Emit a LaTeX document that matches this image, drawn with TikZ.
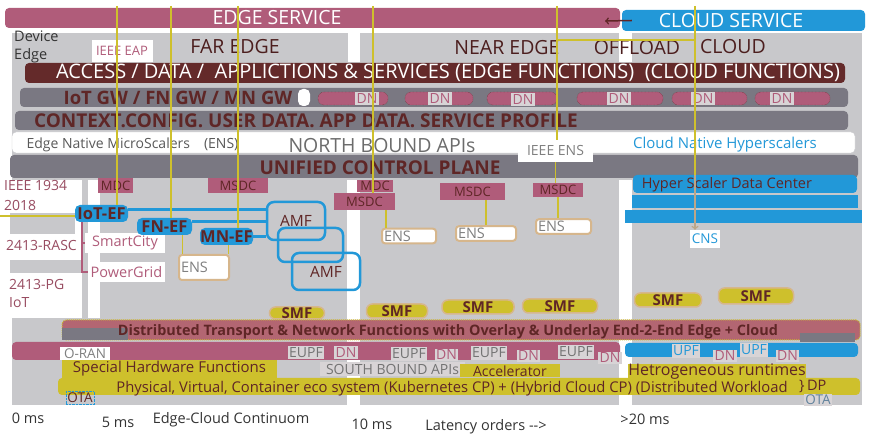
\documentclass[tikz,border=0pt]{standalone}
\usepackage{fontspec}
\setmainfont{Open Sans}
\definecolor{mauve}{RGB}{176,92,122}
\definecolor{wine}{RGB}{100,42,42}
\definecolor{ink}{RGB}{95,38,38}
\definecolor{slate}{RGB}{122,120,130}
\definecolor{pane}{RGB}{200,200,203}
\definecolor{sky}{RGB}{34,152,216}
\definecolor{mustard}{RGB}{206,192,44}
\definecolor{tan}{RGB}{214,182,140}
\definecolor{chip}{RGB}{216,212,214}
\tikzstyle{bar} = [inner sep=0pt, rounded corners=4pt]
\tikzstyle{title} = [font=\fontsize{19.5}{19.5}\selectfont]
\tikzstyle{heavy} = [font=\fontsize{19}{19}\selectfont\bfseries, text=ink]
\tikzstyle{region} = [font=\fontsize{19.5}{19.5}\selectfont, text=ink!80!black]
\tikzstyle{tag} = [font=\fontsize{14.5}{14.5}\selectfont]
\tikzstyle{note} = [font=\fontsize{14}{14}\selectfont]
\tikzstyle{dc} = [fill=mauve, text=ink, inner sep=0pt, font=\fontsize{13}{13}\selectfont]
\tikzstyle{ef} = [fill=sky, text=ink, rounded corners=5pt, inner sep=0pt, minimum height=17pt, font=\fontsize{16.5}{16.5}\selectfont\bfseries]
\tikzstyle{amf} = [draw=sky, line width=2.5pt, rounded corners=7pt, inner sep=0pt, font=\fontsize{15.5}{15.5}\selectfont, text=ink]
\tikzstyle{ens} = [draw=tan, line width=2pt, fill=white, rounded corners=3pt, inner sep=2pt, align=left, text=gray, font=\fontsize{14.5}{14.5}\selectfont]
\tikzstyle{pill} = [fill=mauve, draw=wine, densely dotted, rounded corners=6pt, minimum height=13pt, inner sep=0pt]
\tikzstyle{dn} = [fill=chip, text=mauve, inner sep=1.5pt, note]
\tikzstyle{upf} = [fill=chip, text=gray!90!black, inner sep=1.5pt, note]
\tikzstyle{smf} = [fill=mustard, draw=tan, line width=1.5pt, rounded corners=6pt, inner sep=0pt, text=ink, font=\fontsize{15}{15}\selectfont\bfseries]
\tikzstyle{strip} = [fill=mustard, inner sep=0pt, text=ink, font=\fontsize{15}{15}\selectfont]
\tikzstyle{side} = [text=mauve!70!ink, font=\fontsize{14}{14}\selectfont, anchor=west, inner sep=0pt]
\tikzstyle{axis} = [text=gray!40!black, font=\fontsize{14.5}{14.5}\selectfont]
\tikzstyle{link} = [draw=mustard, line width=1.5pt]
\tikzstyle{blink} = [draw=sky, line width=3.5pt]
\tikzstyle{mlink} = [draw=mauve, line width=1.5pt]

\begin{document}
\begin{tikzpicture}[x=1pt, y=-1pt]
  \useasboundingbox (0,0) rectangle (871,438);
  \fill[pane] (12,33) rectangle (862,405);
  \fill[white] (347,180) rectangle (360,405);
  \fill[white] (619,180) rectangle (632,405);
  \fill[white] (348,33) rectangle (360,62);
  \fill[white] (619,30) rectangle (632,62);
  \fill[white] (0,180) rectangle (82,318);
  \fill[white] (88,180) rectangle (100,318);
  \fill[pane] (10,213) rectangle (75,234);
  \fill[pane] (10,260) rectangle (82,273);

  \node[bar, fill=mauve, minimum width=615pt, minimum height=20pt] (edge) at (312.5,18) {};
  \node[text=white, title] (edgetxt) at (277,18) {EDGE SERVICE};
  \node[bar, fill=sky, minimum width=243pt, minimum height=21pt] (cloud) at (743.5,20.5) {};
  \node[text=white, title] (cloudtxt) at (731,21) {CLOUD SERVICE};
  \coordinate (tip) at (605,21);
  \draw[->, ink, line width=1.5pt] ([xshift=10pt]cloud.west) -- (tip);

  \node[anchor=north west, align=left, inner sep=0pt, text=gray!40!black, font=\fontsize{14.5}{18}\selectfont] (device) at (14,31) {Device\\Edge};
  \node[fill=white, text=mauve, font=\fontsize{13}{13}\selectfont, minimum width=61pt, minimum height=22pt, inner sep=0pt] (eap) at (122,51) {IEEE EAP};
  \node[region] (far) at (235,47) {FAR EDGE};
  \node[region] (near) at (507,48) {NEAR EDGE};
  \node[region] (offload) at (637,48) {OFFLOAD};
  \node[region] (cloudlbl) at (733,47) {CLOUD};

  \node[bar, fill=wine, minimum width=820pt, minimum height=20pt] (access) at (435,73) {};
  \node[text=white, font=\fontsize{20}{20}\selectfont] (accesstxt) at (448,73) {ACCESS / DATA /\ \ APPLICTIONS \& SERVICES (EDGE FUNCTIONS)\ \ (CLOUD FUNCTIONS)};

  \node[bar, fill=slate, minimum width=828pt, minimum height=19pt] (gw) at (434,97.5) {};
  \node[heavy, font=\fontsize{18.5}{18.5}\selectfont\bfseries] (gwtxt) at (178,98) {IoT GW / FN GW / MN GW};
  \fill[white, rounded corners=5pt] (298,89) rectangle (310,106);
  \node[pill, minimum width=70pt] (pill1) at (353,98.5) {};
  \node[pill, minimum width=68pt] (pill2) at (439,98.5) {};
  \node[pill, minimum width=70pt] (pill3) at (522,98.5) {};
  \node[pill, minimum width=86pt] (pill4) at (620,98.5) {};
  \node[pill, minimum width=75pt] (pill5) at (709.5,98.5) {};
  \node[pill, minimum width=75pt] (pill6) at (792.5,98.5) {};
  \node[dn] (dn1) at (367,98.5) {DN};
  \node[dn] (dn2) at (440,99) {DN};
  \node[dn] (dn3) at (523,100) {DN};
  \node[dn] (dn4) at (619,98.5) {DN};
  \node[dn] (dn5) at (703,98.5) {DN};
  \node[dn] (dn6) at (782,98.5) {DN};

  \node[bar, fill=slate, minimum width=833pt, minimum height=19pt] (ctx) at (431.5,120.5) {};
  \node[heavy] (ctxtxt) at (306,121) {CONTEXT.CONFIG. USER DATA. APP DATA. SERVICE PROFILE};

  \node[bar, fill=white, draw=pane, minimum width=843pt, minimum height=21pt] (north) at (433.5,142.5) {};
  \node[anchor=west, text=gray!70!black, note] (micro) at (23,145) {Edge Native MicroScalers\quad (ENS)};
  \node[text=gray!85!black, font=\fontsize{19.5}{19.5}\selectfont] (nbapi) at (382,146) {NORTH BOUND APIs};
  \node[text=sky, font=\fontsize{15}{15}\selectfont] (hyperlbl) at (725,145) {Cloud Native Hyperscalers};

  \node[bar, fill=slate, minimum width=848pt, minimum height=23pt] (ucp) at (434,166.5) {};
  \node[heavy] (ucptxt) at (380,168) {UNIFIED CONTROL PLANE};
  \node[fill=white, text=gray, note, minimum width=75pt, minimum height=22pt, inner sep=0pt] (ieeeens) at (555.5,151) {IEEE ENS};

  \node[bar, fill=sky, minimum width=224pt, minimum height=18pt] (hyper1) at (745,184) {};
  \node[text=ink, font=\fontsize{14.5}{14.5}\selectfont] (hypertxt) at (727,185) {Hyper Scaler Data Center};
  \node[fill=sky, inner sep=0pt, minimum width=226pt, minimum height=13pt] (hyper2) at (745,201.5) {};
  \node[fill=sky, inner sep=0pt, minimum width=237pt, minimum height=13pt] (hyper3) at (743.5,216.5) {};
  \node[fill=white, text=sky, font=\fontsize{13.5}{13.5}\selectfont, minimum width=30pt, minimum height=18pt, inner sep=0pt] (cns) at (705,239) {CNS};

  \node[side] (ieee1934) at (4,186) {IEEE 1934};
  \node[side] (y2018) at (4,205) {2018};
  \node[side] (rasc) at (6,246) {2413-RASC};
  \node[side] (pg) at (9,285) {2413-PG};
  \node[side] (iotlbl) at (9,303) {IoT};

  \node[dc, minimum width=35pt, minimum height=15pt] (mdc1) at (115.5,185.5) {MDC};
  \node[dc, minimum width=60pt, minimum height=15pt] (msdc1) at (238,185.5) {MSDC};
  \node[dc, minimum width=36pt, minimum height=12pt] (mdc2) at (375,186) {MDC};
  \node[dc, minimum width=61pt, minimum height=17pt] (msdc2) at (364.5,201.5) {MSDC};
  \node[dc, minimum width=65pt, minimum height=17pt] (msdc3) at (472.5,191.5) {MSDC};
  \node[dc, minimum width=50pt, minimum height=14pt] (msdc4) at (558,190) {MSDC};

  \node[fill=white, text=mauve, tag, minimum width=80pt, minimum height=20pt, inner sep=0pt] (city) at (125,243) {SmartCity};
  \node[fill=white, text=mauve, tag, minimum width=77pt, minimum height=20pt, inner sep=0pt] (grid) at (126.5,272) {PowerGrid};

  \node[amf, minimum width=65pt, minimum height=34pt] (amf2) at (310.5,245) {};
  \node[amf, minimum width=58pt, minimum height=38pt] (amf1) at (296,221) {AMF};
  \node[amf, minimum width=68pt, minimum height=37pt] (amf3) at (326,271.5) {AMF};
  \node[ef, minimum width=53pt] (iot) at (101.5,213.5) {IoT-EF};
  \node[ef, minimum width=55pt] (fn) at (164.5,226.5) {FN-EF};
  \node[ef, minimum width=53pt] (mn) at (226.5,236.5) {MN-EF};
  \draw[blink] ([yshift=4pt]iot.east) -- ([yshift=4pt]iot.east -| amf1.west);
  \draw[blink] ([yshift=5pt]fn.east) -- ([yshift=5pt]fn.east -| amf1.west);
  \draw[blink] (mn.east) -- (mn.east -| amf1.west);
  \draw[mlink] ([xshift=7pt]iot.south west) |- (city.west);
  \draw[mlink] ([xshift=7pt]iot.south west) |- (grid.west);

  \node[ens, text width=46pt, minimum height=25pt] (ens1) at (204,267.5) {ENS};
  \node[ens, text width=50pt] (ens2) at (409,236) {ENS};
  \node[ens, text width=56pt] (ens3) at (486,233.5) {ENS};
  \node[ens, text width=51pt] (ens4) at (563.5,226.5) {ENS};

  \node[smf, minimum width=55pt, minimum height=12pt] (smf1) at (297,313) {SMF};
  \node[smf, minimum width=61pt, minimum height=14pt] (smf2) at (397,311) {SMF};
  \node[smf, minimum width=72pt, minimum height=14pt] (smf3) at (478,307) {SMF};
  \node[smf, minimum width=75pt, minimum height=14pt] (smf4) at (560,306) {SMF};
  \node[smf, minimum width=67pt, minimum height=14pt] (smf5) at (668,300) {SMF};
  \node[smf, minimum width=75pt, minimum height=16pt] (smf6) at (756,296) {SMF};

  \node[bar, fill=mauve!90!mustard, draw=mustard, densely dotted, line width=1pt, minimum width=798pt, minimum height=20pt] (dist) at (461,330) {};
  \node[fill=slate, inner sep=0pt, minimum width=66pt, minimum height=12pt] (distl) at (95,334) {};
  \node[fill=slate, inner sep=0pt, minimum width=55pt, minimum height=9pt] (distr) at (827,337.5) {};
  \node[text=ink, font=\fontsize{14.4}{14.4}\selectfont\bfseries] (disttxt) at (448,332) {Distributed Transport \& Network Functions with Overlay \& Underlay End-2-End Edge + Cloud};

  \node[bar, fill=mauve, minimum width=608pt, minimum height=18pt] (ran) at (316,351) {};
  \node[fill=white, text=gray, font=\fontsize{13.5}{13.5}\selectfont, minimum width=50pt, minimum height=13pt, inner sep=0pt] (oran) at (85,353.5) {O-RAN};
  \node[upf] (eupf1) at (306,352.5) {EUPF};
  \node[dn] (dn7) at (346,352.5) {DN};
  \node[upf] (eupf2) at (409,354) {EUPF};
  \node[dn] (dn8) at (446.5,355) {DN};
  \node[upf] (eupf3) at (489,353) {EUPF};
  \node[dn] (dn9) at (528.5,356) {DN};
  \node[upf] (eupf4) at (576,352) {EUPF};
  \node[dn] (dn10) at (610,358) {DN};
  \node[bar, fill=sky, minimum width=233pt, minimum height=14pt] (upfbar) at (741.5,350) {};
  \node[upf, text=sky] (upf1) at (686,351) {UPF};
  \node[dn] (dn11) at (725,356) {DN};
  \node[upf, text=sky] (upf2) at (754,350) {UPF};
  \node[dn] (dn12) at (787.5,356) {DN};
  \node[fill=chip, text=gray!90!black, note, minimum width=145pt, minimum height=14pt, inner sep=0pt] (sbapi) at (392.5,369) {SOUTH BOUND APIs};

  \node[strip, minimum width=215pt, minimum height=18pt] (special) at (169.5,369) {Special Hardware Functions};
  \node[strip, bar, minimum width=802pt, minimum height=17pt] (eco) at (459,386.5) {};
  \node[strip, font=\fontsize{14}{14}\selectfont, minimum width=100pt, minimum height=13pt] (accel) at (510,371) {Accelerator};
  \node[strip, font=\fontsize{16}{16}\selectfont, minimum width=170pt, minimum height=15pt] (hetero) at (717,372) {Hetrogeneous runtimes};
  \node[text=ink, inner sep=0pt, font=\fontsize{14.8}{14.8}\selectfont] (ecotxt) at (452,389) {Physical, Virtual, Container eco system (Kubernetes CP) + (Hybrid Cloud CP) (Distributed Workload};
  \node[text=ink, tag, anchor=west, inner sep=0pt] (dp) at (799,386) {\}\,DP};
  \node[fill=chip, text=slate!70!sky, font=\fontsize{13.5}{13.5}\selectfont, inner sep=1pt] (ota2) at (818,400) {OTA};
  \node[draw=sky, densely dotted, text=ink, font=\fontsize{13.5}{13.5}\selectfont, inner sep=1.5pt] (ota1) at (80,398) {OTA};

  \node[axis] (ms0) at (28,418) {0 ms};
  \node[axis] (ms5) at (118,422) {5 ms};
  \node[axis] (contin) at (231,420) {Edge-Cloud Continuom};
  \node[axis] (ms10) at (372,424) {10 ms};
  \node[axis] (latency) at (486,427) {Latency orders -{}->};
  \node[axis] (ms20) at (645,419) {>20 ms};

  \coordinate (t1) at (117,6);
  \coordinate (t2) at (171,6);
  \coordinate (t3) at (238,6);
  \coordinate (t4) at (373,6);
  \coordinate (t5) at (557,6);
  \coordinate (t6) at (695,6);
  \coordinate (o1) at (557,40);
  \coordinate (o2) at (695,40);
  \coordinate (l0) at (0,216);
  \draw[link] (t1) -- (t1 |- iot.north);
  \draw[link] (t2) -- (t2 |- fn.north);
  \draw[link] (t3) -- (t3 |- mn.north);
  \draw[link] (t4) -- (t4 |- msdc2.north);
  \draw[link] (t5) -- (t5 |- ieeeens.north);
  \draw[link] (t6) -- (t6 |- hyper1.north);
  \draw[link] (o1) -- (o2);
  \draw[link] (l0) -- (l0 -| iot.west);
  \draw[->, draw=tan!70!gray, line width=1.5pt] (t6 |- hyper1.north) -- (t6 |- cns.north);
  \draw[link] ([xshift=18pt]fn.south) -- ([xshift=18pt]fn.south |- ens1.north);
  \draw[link] ([xshift=2pt]mn.south) -- ([xshift=2pt]mn.south |- ens1.north);
  \draw[link] ([xshift=-23pt]ens2.north |- msdc2.south) -- ([xshift=-23pt]ens2.north);
  \draw[link] (ens3.north |- msdc3.south) -- (ens3.north);
  \draw[link] (msdc4.south) -- (msdc4.south |- ens4.north);
  \draw[link] (ieeeens.south) -- (ieeeens.south |- msdc4.north);
\end{tikzpicture}
\end{document}
